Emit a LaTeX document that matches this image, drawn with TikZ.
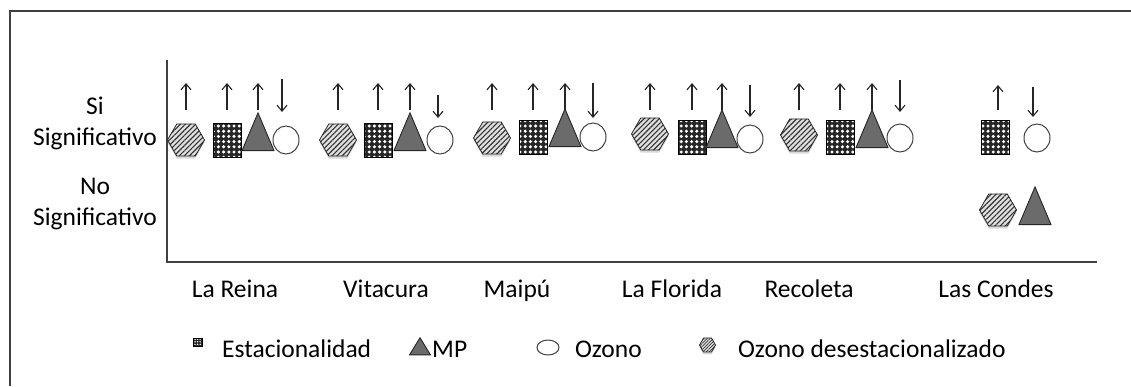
\documentclass[tikz,border=0pt]{standalone}
\usepackage{fontspec}
\setmainfont{Carlito}
\usetikzlibrary{shapes.geometric, arrows.meta, patterns.meta, shadows, positioning}

\begin{document}
\begin{tikzpicture}[x=1pt, y=-1pt, >={Straight Barb[length=6pt,width=10pt]},
  lbl/.style={font=\fontsize{25.5}{30}\selectfont, inner sep=0pt},
  arr/.style={->, line width=1.1pt, black!85},
  axis/.style={line width=1.3pt, black!75},
  hexa/.style={regular polygon, regular polygon sides=6, minimum size=37pt, inner sep=0pt,
    draw=black!85, line width=0.8pt, drop shadow={opacity=0.3, shadow xshift=0pt, shadow yshift=-2.5pt},
    preaction={fill=black!12}, pattern={Lines[angle=45, distance=3.6pt, line width=1.1pt]}, pattern color=black!80},
  estac/.style={rectangle, minimum width=28pt, minimum height=34pt, inner sep=0pt, draw=black, line width=0.8pt,
    preaction={fill=black!85}, pattern={Dots[distance=5.2pt, radius=1.7pt]}, pattern color=white},
  mp/.style={isosceles triangle, isosceles triangle apex angle=46, rotate=90,
    minimum width=32pt, minimum height=10pt, inner sep=0pt, draw=black!85, line width=0.9pt, fill=black!58},
  ozono/.style={ellipse, minimum width=26pt, minimum height=28pt, inner sep=0pt, draw=black!75, line width=1pt, fill=white}]
  \useasboundingbox (0,0) rectangle (1131,386);
  % frame and axes
  \draw[line width=1.5pt, black!75] (10,386) -- (10,11) -- (1131,11);
  \draw[axis] (167,60) -- (167,262) -- (1097,262);
  % y labels
  \node[lbl, anchor=base] (si) at (95,114) {Si};
  \node[lbl, anchor=base] (sisig) at (95,145) {Significativo};
  \node[lbl, anchor=base] (no) at (95,194) {No};
  \node[lbl, anchor=base] (nosig) at (95,225) {Significativo};
  % La Reina
  \node[hexa] (h1) at (186,140) {}; \node[estac] (s1) at (227,140) {};
  \node[mp] (t1) at (258,140) {}; \node[ozono] (o1) at (286,140) {};
  \draw[arr] (h1.north |- 0,110) -- ++(0pt,27pt);
  \draw[arr] (s1.north |- 0,110) -- ++(0pt,27pt);
  \draw[arr] (t1.apex |- 0,110) -- ++(0pt,27pt);
  \draw[arr] ([xshift=-4pt]o1.north |- 0,79) -- ++(0pt,-33pt);
  % Vitacura
  \node[hexa] (h2) at (338,140) {}; \node[estac] (s2) at (378,140) {};
  \node[mp] (t2) at (410,140) {}; \node[ozono] (o2) at (440,140) {};
  \draw[arr] (h2.north |- 0,110) -- ++(0pt,27pt);
  \draw[arr] (s2.north |- 0,110) -- ++(0pt,27pt);
  \draw[arr] (t2.apex |- 0,110) -- ++(0pt,27pt);
  \draw[arr] ([xshift=-2pt]o2.north |- 0,95) -- ++(0pt,-23pt);
  % Maipu
  \node[hexa] (h3) at (492,138) {}; \node[estac] (s3) at (533,137) {};
  \node[mp] (t3) at (565,136) {}; \node[ozono] (o3) at (593,137) {};
  \draw[arr] (h3.north |- 0,110) -- ++(0pt,27pt);
  \draw[arr] (s3.north |- 0,110) -- ++(0pt,27pt);
  \draw[arr] (t3.apex |- 0,110) -- ++(0pt,27pt);
  \draw[arr] (o3.north |- 0,83) -- ++(0pt,-35pt);
  % La Florida
  \node[hexa] (h4) at (650,134) {}; \node[estac] (s4) at (692,137) {};
  \node[mp] (t4) at (722,137) {}; \node[ozono] (o4) at (750,139) {};
  \draw[arr] (h4.north |- 0,110) -- ++(0pt,27pt);
  \draw[arr] (s4.north |- 0,110) -- ++(0pt,27pt);
  \draw[arr] (t4.apex |- 0,110) -- ++(0pt,27pt);
  \draw[arr] (o4.north |- 0,85) -- ++(0pt,-32pt);
  % Recoleta
  \node[hexa] (h5) at (799,135) {}; \node[estac] (s5) at (840,137) {};
  \node[mp] (t5) at (872,137) {}; \node[ozono] (o5) at (900,138) {};
  \draw[arr] (h5.north |- 0,110) -- ++(0pt,27pt);
  \draw[arr] (s5.north |- 0,110) -- ++(0pt,27pt);
  \draw[arr] (t5.apex |- 0,110) -- ++(0pt,27pt);
  \draw[arr] (o5.north |- 0,80) -- ++(0pt,-32pt);
  % Las Condes
  \node[estac] (s6) at (995,137) {}; \node[ozono] (o6) at (1037,138) {};
  \node[hexa] (h6) at (998,210) {}; \node[mp] (t6) at (1035,214) {};
  \draw[arr] ([xshift=3pt]s6.north |- 0,110) -- ++(0pt,25pt);
  \draw[arr] ([xshift=-4pt]o6.north |- 0,87) -- ++(0pt,-30pt);
  % communes
  \node[lbl, anchor=base] (reina) at (235,297) {La Reina};
  \node[lbl, anchor=base] (vitacura) at (386,297) {Vitacura};
  \node[lbl, anchor=base] (maipu) at (517,297) {Maipú};
  \node[lbl, anchor=base] (florida) at (672,297) {La Florida};
  \node[lbl, anchor=base] (recoleta) at (809,297) {Recoleta};
  \node[lbl, anchor=base] (condes) at (996,297) {Las Condes};
  % legend
  \node[estac, minimum width=9pt, minimum height=8pt, pattern={Dots[distance=2.6pt, radius=0.8pt]}] (lestac) at (197.5,342.5) {};
  \node[lbl, anchor=base west] (testac) at (222,357) {Estacionalidad};
  \node[mp, isosceles triangle apex angle=63, minimum width=21pt, minimum height=5pt] (lmp) at (420,349) {};
  \node[lbl, anchor=base west] (tmp) at (432,357) {MP};
  \node[ozono, minimum width=22pt, minimum height=15pt] (loz) at (548,347.5) {};
  \node[lbl, anchor=base west] (toz) at (575,357) {Ozono};
  \node[hexa, minimum size=16pt, drop shadow={opacity=0}, pattern={Lines[angle=45, distance=2.2pt, line width=0.7pt]}] (lhexa) at (707.5,345) {};
  \node[lbl, anchor=base west] (thexa) at (738,357) {Ozono desestacionalizado};
\end{tikzpicture}
\end{document}
